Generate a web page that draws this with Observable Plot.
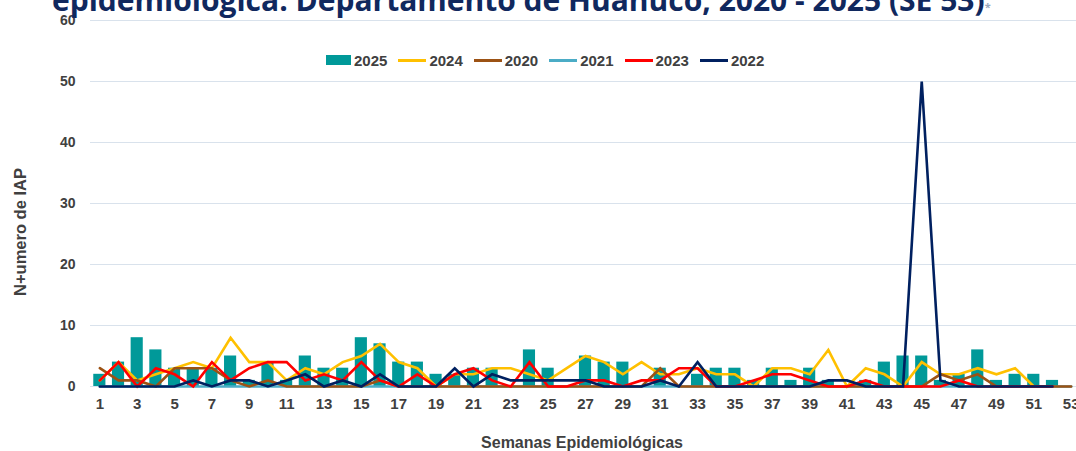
<!DOCTYPE html>
<html>
<head>
<meta charset="utf-8">
<script src="https://cdn.jsdelivr.net/npm/d3@7"></script>
<script src="https://cdn.jsdelivr.net/npm/@observablehq/plot@0.6"></script>
<style>
  body { margin: 0; background: #fff; }
  #wrap { position: relative; width: 1076px; height: 451px; overflow: hidden; font-family: "Liberation Sans", Arial, sans-serif; }
  #title { position: absolute; left: 52px; top: -15px; font: 700 30px/30px "Open Sans", sans-serif; color: #10285e; white-space: nowrap; }
  #title sup { font-size: 11px; color: #9aa9bd; vertical-align: top; position: relative; top: 7px; }
  #legend { position: absolute; left: 326px; top: 50px; height: 20px; display: flex; align-items: center; font-weight: 700; font-size: 15px; color: #404040; }
  #legend .item { display: flex; align-items: center; margin-right: 11px; }
  #legend .sw { width: 25px; height: 10px; margin-right: 3px; }
  #legend .ln { width: 28px; height: 3px; margin-right: 3px; }
  #ylab { position: absolute; left: 20px; top: 232px; transform: translate(-50%, -50%) rotate(-90deg); font-weight: 700; font-size: 16.5px; color: #404040; white-space: nowrap; }
  #xlab { position: absolute; left: 582px; top: 435px; transform: translateX(-50%); font-weight: 700; font-size: 16px; line-height: 16px; color: #404040; white-space: nowrap; }
  #chart { position: absolute; left: 0; top: 0; }
</style>
</head>
<body>
<div id="wrap">
  <div id="chart"></div>
  <div id="title">epidemiológica. Departamento de Huánuco, 2020 - 2025 (SE 53)<sup>*</sup></div>
  <div id="legend"></div>
  <div id="ylab">N+umero de IAP</div>
  <div id="xlab">Semanas Epidemiológicas</div>
</div>
<script>
// Epidemiological weeks (categories)
const weeks = [1,2,3,4,5,6,7,8,9,10,11,12,13,14,15,16,17,18,19,20,21,22,23,24,25,26,27,28,29,30,31,32,33,34,35,36,37,38,39,40,41,42,43,44,45,46,47,48,49,50,51,52,53];
const xTicks = [1,3,5,7,9,11,13,15,17,19,21,23,25,27,29,31,33,35,37,39,41,43,45,47,49,51,53];
const yTicks = [0,10,20,30,40,50,60];

// Series values (per week)
const v2025 = [2,4,8,6,3,3,3,5,1,4,1,5,3,3,8,7,4,4,2,2,3,3,0,6,3,0,5,4,4,0,3,0,2,3,3,1,3,1,3,1,0,1,4,5,5,1,2,6,1,2,2,1,0];
const v2024 = [1,4,1,2,3,4,3,8,4,4,1,3,2,4,5,7,4,3,0,2,2,3,3,2,1,3,5,4,2,4,2,2,3,2,2,0,3,3,2,6,0,3,2,0,4,2,2,3,2,3,0,0,null];
const v2020 = [3,1,1,0,3,3,3,1,0,1,0,0,0,0,0,1,0,0,0,0,0,0,0,0,0,0,0,0,0,0,3,0,0,0,0,0,0,0,0,0,0,0,0,0,0,2,1,2,0,0,0,0,0];
const v2021 = [0,0,0,0,0,0,0,0,0,0,0,0,0,0,0,0,0,0,0,0,0,0,0,0,0,0,0,0,0,0,0,0,0,0,0,0,0,0,0,0,0,0,0,0,0,0,0,0,0,0,0,0,0];
const v2023 = [1,4,0,3,2,0,4,1,3,4,4,1,2,1,4,1,0,2,0,2,3,1,0,4,0,0,1,1,0,1,1,3,3,0,0,1,2,2,1,0,0,1,0,0,0,0,1,0,0,0,0,0,null];
const v2022 = [0,0,0,0,0,1,0,1,1,0,1,2,0,1,0,2,0,0,0,3,0,2,1,1,1,1,1,0,0,0,1,0,4,0,0,0,0,0,0,1,1,0,0,0,50,1,0,0,0,0,0,0,null];

const legendOrder = ["2025","2024","2020","2021","2023","2022"];
const colors = {"2025":"#009999","2024":"#FFC000","2020":"#9C5214","2021":"#4BACC6","2023":"#FF0000","2022":"#002060"};

const rows = (vals) => weeks.map((w, i) => ({week: w, value: vals[i]})).filter(d => d.value != null);

// drawing order of the lines (bottom to top)
const lineSeries = [["2021", v2021], ["2024", v2024], ["2020", v2020], ["2023", v2023], ["2022", v2022]];

const chart = Plot.plot({
  width: 1076,
  height: 451,
  marginLeft: 90,
  marginRight: -4,
  marginTop: 20,
  marginBottom: 65,
  style: {fontFamily: "'Liberation Sans', Arial, sans-serif", fontWeight: "bold", fontSize: "15px", color: "#404040", background: "transparent", overflow: "hidden"},
  x: {type: "band", domain: weeks, paddingInner: 0.35, paddingOuter: 0.175, label: null},
  y: {domain: [0, 60], label: null},
  marks: [
    Plot.gridY({ticks: yTicks, stroke: "#d9e2ec", strokeOpacity: 1, strokeWidth: 1}),
    Plot.axisY({ticks: yTicks, tickSize: 0, tickPadding: 15, label: null, fontSize: 14}),
    Plot.axisX({ticks: xTicks, tickSize: 0, tickPadding: 12, label: null}),
    Plot.barY(rows(v2025), {x: "week", y: "value", fill: colors["2025"]}),
    ...lineSeries.map(([name, vals]) =>
      Plot.line(rows(vals), {x: "week", y: "value", stroke: colors[name], strokeWidth: 2.6, strokeLinejoin: "miter", strokeMiterlimit: 10})
    )
  ]
});
document.getElementById("chart").appendChild(chart);

const leg = document.getElementById("legend");
for (const k of legendOrder) {
  const it = document.createElement("div");
  it.className = "item";
  const sw = document.createElement("div");
  sw.className = k === "2025" ? "sw" : "ln";
  sw.style.background = colors[k];
  const t = document.createElement("span");
  t.textContent = k;
  it.appendChild(sw); it.appendChild(t);
  leg.appendChild(it);
}
</script>
</body>
</html>
